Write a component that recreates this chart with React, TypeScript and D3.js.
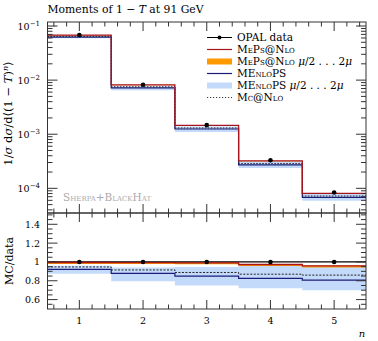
import React from 'react';
import * as d3 from 'd3';

// bin centres (n) and the measured / predicted moments
const bins = [1, 2, 3, 4, 5];
const opalData = [0.068, 0.0082, 0.00147, 0.00033, 0.000084];

// ratios MC / data
const mepsRatio = [0.994, 0.993, 0.99, 0.973, 0.958];
const mepsLo = [0.978, 0.978, 0.975, 0.958, 0.942];
const mepsHi = [1.0, 1.0, 0.995, 0.978, 0.962];
const menlopsRatio = [0.92, 0.878, 0.85, 0.825, 0.807];
const menlopsLo = [0.875, 0.795, 0.75, 0.72, 0.7];
const menlopsHi = [0.96, 0.94, 0.945, 0.96, 0.95];
const mcnloRatio = [0.947, 0.915, 0.888, 0.87, 0.86];

const mainTicks = [1e-4, 1e-3, 1e-2, 1e-1];
const ratioTicks = [0.6, 0.8, 1, 1.2, 1.4];

const W = 378;
const H = 341;
const left = 47.5;
const right = 366;
const mainTop = 22;
const mainBot = 213;
const ratioBot = 309;

const RED = '#a8141c';
const ORANGE = '#ff9900';
const BLUE = '#1c1c78';
const LIGHTBLUE = '#c4dafb';
const AXIS = '#333';
const FONT = '"DejaVu Serif", "Liberation Serif", serif';

const x = d3.scaleLinear().domain([0.5, 5.5]).range([left, right]);
const y = d3.scaleLog().domain([3.5e-5, 0.1186]).range([mainBot, mainTop]);
const r = d3.scaleLinear().domain([0.5, 1.52]).range([ratioBot, mainBot]);

// step edges: one point per bin low edge plus the last high edge
const stepPts = (vals: number[]) => {
  const pts = bins.map((b, i) => [b - 0.5, vals[i]]);
  pts.push([bins[bins.length - 1] + 0.5, vals[vals.length - 1]]);
  return pts;
};

const mul = (a: number[], b: number[]) => a.map((v, i) => v * b[i]);

const App = () => {
  const mainLine = d3.line<number[]>().x(d => x(d[0])).y(d => y(d[1])).curve(d3.curveStepAfter);
  const ratioLine = d3.line<number[]>().x(d => x(d[0])).y(d => r(d[1])).curve(d3.curveStepAfter);

  const bandMain = (lo: number[], hi: number[]) => {
    const l = stepPts(mul(opalData, lo));
    const h = stepPts(mul(opalData, hi));
    return d3.area<number[]>()
      .x(d => x(d[0]))
      .y0((d, i) => y(l[i][1]))
      .y1((d, i) => y(h[i][1]))
      .curve(d3.curveStepAfter)(l);
  };
  const bandRatio = (lo: number[], hi: number[]) => {
    const l = stepPts(lo);
    const h = stepPts(hi);
    return d3.area<number[]>()
      .x(d => x(d[0]))
      .y0((d, i) => r(l[i][1]))
      .y1((d, i) => r(h[i][1]))
      .curve(d3.curveStepAfter)(l);
  };

  const xMinor = d3.range(0.6, 5.5, 0.2).filter(v => Math.abs(v - Math.round(v)) > 0.01);

  const logMinor: number[] = [];
  [-5, -4, -3, -2, -1].forEach(e => {
    for (let k = 2; k <= 9; k++) {
      const v = k * Math.pow(10, e);
      if (v > 3.5e-5 && v < 0.1186) logMinor.push(v);
    }
  });
  const ratioMinor = d3.range(0.55, 1.52, 0.05).filter(v => Math.abs(v * 5 - Math.round(v * 5)) > 0.01);

  const sc = { fontVariant: 'small-caps' };
  const legendRows = [
    { key: 'opal', label: <tspan>OPAL data</tspan> },
    { key: 'meps', label: <tspan style={sc}>MePs@Nlo</tspan> },
    {
      key: 'mepsband',
      label: (
        <>
          <tspan style={sc}>MePs@Nlo </tspan>
          <tspan fontStyle="italic">μ</tspan><tspan>/2 . . . 2</tspan><tspan fontStyle="italic">μ</tspan>
        </>
      ),
    },
    { key: 'menlops', label: <tspan style={sc}>MEnloPS</tspan> },
    {
      key: 'menlopsband',
      label: (
        <>
          <tspan style={sc}>MEnloPS </tspan>
          <tspan fontStyle="italic">μ</tspan><tspan>/2 . . . 2</tspan><tspan fontStyle="italic">μ</tspan>
        </>
      ),
    },
    { key: 'mcnlo', label: <tspan style={sc}>Mc@Nlo</tspan> },
  ];

  return (
    <svg width={W} height={H} style={{ position: 'absolute', left: 0, top: 0, background: '#fff' }} fontFamily={FONT}>
      {/* title */}
      <text x={left} y={13} fontSize={10.8}>
        Moments of 1 − <tspan fontStyle="italic">T</tspan> at 91 GeV
      </text>

      {/* ---------- main panel ---------- */}
      <path d={bandMain(menlopsLo, menlopsHi) || ''} fill={LIGHTBLUE} />
      <path d={bandMain(mepsLo, mepsHi) || ''} fill={ORANGE} />
      <path d={mainLine(stepPts(mul(opalData, menlopsRatio))) || ''} fill="none" stroke={BLUE} strokeWidth={1.2} />
      <path d={mainLine(stepPts(mul(opalData, mcnloRatio))) || ''} fill="none" stroke="#222" strokeWidth={1} strokeDasharray="1.5,1.5" />
      <path d={mainLine(stepPts(mul(opalData, mepsRatio))) || ''} fill="none" stroke={RED} strokeWidth={1.3} />
      {bins.map((b, i) => (
        <circle key={b} cx={x(b)} cy={y(opalData[i])} r={2.3} fill="#000" />
      ))}

      <text x={63} y={201} fontSize={10.5} fill="#aaa" style={sc}>Sherpa+BlackHat</text>

      {/* legend */}
      {legendRows.map((row, i) => {
        const ly = 37.5 + i * 12;
        const x0 = 207;
        const x1 = 232;
        let sample: React.ReactNode = null;
        if (row.key === 'opal') {
          sample = (
            <g>
              <line x1={x0} x2={x1} y1={ly} y2={ly} stroke="#000" strokeWidth={1} />
              <circle cx={(x0 + x1) / 2} cy={ly} r={2} fill="#000" />
            </g>
          );
        } else if (row.key === 'meps') {
          sample = <line x1={x0} x2={x1} y1={ly} y2={ly} stroke={RED} strokeWidth={1.2} />;
        } else if (row.key === 'mepsband') {
          sample = <rect x={x0} y={ly - 3} width={x1 - x0} height={6} fill={ORANGE} />;
        } else if (row.key === 'menlops') {
          sample = <line x1={x0} x2={x1} y1={ly} y2={ly} stroke={BLUE} strokeWidth={1.2} />;
        } else if (row.key === 'menlopsband') {
          sample = <rect x={x0} y={ly - 3} width={x1 - x0} height={6} fill={LIGHTBLUE} />;
        } else {
          sample = <line x1={x0} x2={x1} y1={ly} y2={ly} stroke="#222" strokeWidth={0.9} strokeDasharray="1.2,1.8" />;
        }
        return (
          <g key={row.key}>
            {sample}
            <text x={237} y={ly + 3.8} fontSize={10.5}>{row.label}</text>
          </g>
        );
      })}

      {/* main frame + ticks */}
      <rect x={left} y={mainTop} width={right - left} height={mainBot - mainTop} fill="none" stroke={AXIS} strokeWidth={1} />
      {bins.map(b => (
        <g key={'mx' + b}>
          <line x1={x(b)} x2={x(b)} y1={mainTop} y2={mainTop + 9} stroke={AXIS} />
          <line x1={x(b)} x2={x(b)} y1={mainBot} y2={mainBot - 9} stroke={AXIS} />
        </g>
      ))}
      {xMinor.map(v => (
        <g key={'mmx' + v}>
          <line x1={x(v)} x2={x(v)} y1={mainTop} y2={mainTop + 4.5} stroke={AXIS} />
          <line x1={x(v)} x2={x(v)} y1={mainBot} y2={mainBot - 4.5} stroke={AXIS} />
        </g>
      ))}
      {mainTicks.map(t => (
        <g key={'my' + t}>
          <line x1={left} x2={left + 10} y1={y(t)} y2={y(t)} stroke={AXIS} />
          <line x1={right} x2={right - 10} y1={y(t)} y2={y(t)} stroke={AXIS} />
          <text x={40} y={y(t) + 3.5} fontSize={9.5} textAnchor="end">
            10<tspan dy={-4} fontSize={7}>−{Math.round(-Math.log10(t))}</tspan>
          </text>
        </g>
      ))}
      {logMinor.map(t => (
        <g key={'mmy' + t}>
          <line x1={left} x2={left + 5} y1={y(t)} y2={y(t)} stroke={AXIS} />
          <line x1={right} x2={right - 5} y1={y(t)} y2={y(t)} stroke={AXIS} />
        </g>
      ))}
      <text transform={`translate(12,${(mainTop + mainBot) / 2 - 4}) rotate(-90)`} textAnchor="middle" fontSize={11.5}>
        1/<tspan fontStyle="italic">σ</tspan> d<tspan fontStyle="italic">σ</tspan>/d⟨(1 − <tspan fontStyle="italic">T</tspan>)<tspan dy={-4} fontSize={8} fontStyle="italic">n</tspan><tspan dy={4}>⟩</tspan>
      </text>

      {/* ---------- ratio panel ---------- */}
      <path d={bandRatio(menlopsLo, menlopsHi) || ''} fill={LIGHTBLUE} />
      <path d={bandRatio(mepsLo, mepsHi) || ''} fill={ORANGE} />
      <line x1={left} x2={right} y1={r(1)} y2={r(1)} stroke="#000" strokeWidth={1.2} />
      <path d={ratioLine(stepPts(menlopsRatio)) || ''} fill="none" stroke={BLUE} strokeWidth={1.2} />
      <path d={ratioLine(stepPts(mcnloRatio)) || ''} fill="none" stroke="#222" strokeWidth={1} strokeDasharray="2,1.5" />
      <path d={ratioLine(stepPts(mepsRatio)) || ''} fill="none" stroke={RED} strokeWidth={1.3} />
      {bins.map(b => (
        <circle key={'rp' + b} cx={x(b)} cy={r(1)} r={2.3} fill="#000" />
      ))}

      <rect x={left} y={mainBot} width={right - left} height={ratioBot - mainBot} fill="none" stroke={AXIS} strokeWidth={1} />
      {bins.map(b => (
        <g key={'rx' + b}>
          <line x1={x(b)} x2={x(b)} y1={mainBot} y2={mainBot + 9} stroke={AXIS} />
          <line x1={x(b)} x2={x(b)} y1={ratioBot} y2={ratioBot - 9} stroke={AXIS} />
          <text x={x(b)} y={324} fontSize={9.5} textAnchor="middle">{b}</text>
        </g>
      ))}
      {xMinor.map(v => (
        <g key={'rmx' + v}>
          <line x1={x(v)} x2={x(v)} y1={mainBot} y2={mainBot + 4.5} stroke={AXIS} />
          <line x1={x(v)} x2={x(v)} y1={ratioBot} y2={ratioBot - 4.5} stroke={AXIS} />
        </g>
      ))}
      {ratioTicks.map(t => (
        <g key={'ry' + t}>
          <line x1={left} x2={left + 10} y1={r(t)} y2={r(t)} stroke={AXIS} />
          <line x1={right} x2={right - 10} y1={r(t)} y2={r(t)} stroke={AXIS} />
          <text x={40} y={r(t) + 3.5} fontSize={9.5} textAnchor="end">{t === 1 ? '1' : t.toFixed(1)}</text>
        </g>
      ))}
      {ratioMinor.map(t => (
        <g key={'rmy' + t}>
          <line x1={left} x2={left + 5} y1={r(t)} y2={r(t)} stroke={AXIS} />
          <line x1={right} x2={right - 5} y1={r(t)} y2={r(t)} stroke={AXIS} />
        </g>
      ))}
      <text transform={`translate(13,${(mainBot + ratioBot) / 2}) rotate(-90)`} textAnchor="middle" fontSize={11}>MC/data</text>
      <text x={362} y={337} fontSize={10} fontStyle="italic" textAnchor="middle">n</text>
    </svg>
  );
};

export default App;
